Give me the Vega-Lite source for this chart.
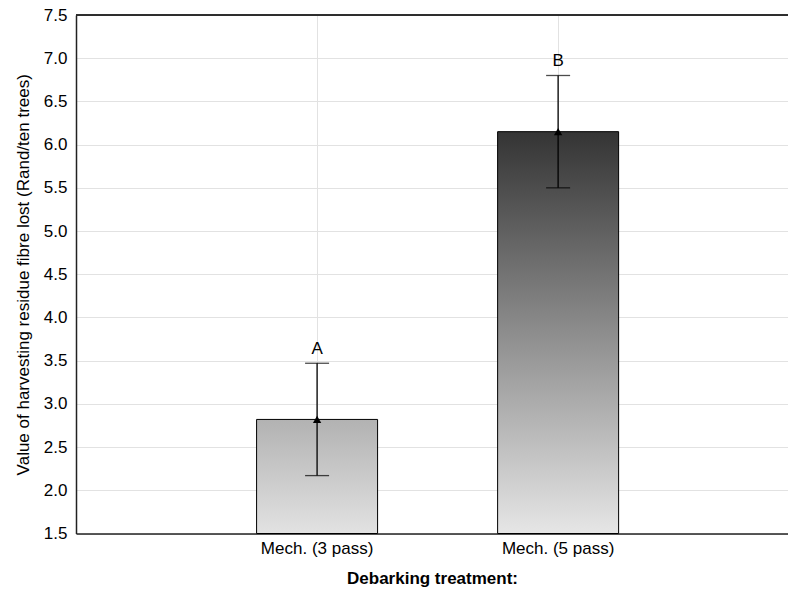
{
  "$schema": "https://vega.github.io/schema/vega-lite/v6.json",
  "width": 712,
  "height": 518.5,
  "autosize": {"type": "none"},
  "padding": {"left": 76, "top": 15, "right": 0, "bottom": 63.5},
  "config": {
    "font": "Liberation Sans",
    "view": {"stroke": null},
    "axis": {
      "labelFont": "Liberation Sans",
      "titleFont": "Liberation Sans",
      "labelFontSize": 17,
      "titleFontSize": 17,
      "labelColor": "#000000",
      "titleColor": "#000000",
      "domainColor": "#222222",
      "domainWidth": 1.5,
      "gridColor": "#e2e2e2",
      "gridWidth": 1
    }
  },
  "data": {
    "values": [
      {"treatment": "Mech. (3 pass)", "mean": 2.82, "lower": 2.17, "upper": 3.47, "group": "A"},
      {"treatment": "Mech. (5 pass)", "mean": 6.15, "lower": 5.5, "upper": 6.8, "group": "B"}
    ]
  },
  "encoding": {
    "x": {
      "field": "treatment",
      "type": "nominal",
      "sort": null,
      "scale": {"type": "band", "paddingInner": 0.498, "paddingOuter": 0.726, "align": 0.516},
      "axis": {
        "title": "Debarking treatment:",
        "titleFontWeight": "bold",
        "titlePadding": 14,
        "labelAngle": 0,
        "grid": true,
        "ticks": false,
        "labelPadding": 7
      }
    }
  },
  "layer": [
    {
      "transform": [{"filter": "datum.treatment === 'Mech. (3 pass)'"}],
      "mark": {
        "type": "bar",
        "stroke": "#000000",
        "strokeWidth": 1,
        "color": {
          "gradient": "linear",
          "x1": 0, "y1": 0, "x2": 0, "y2": 1,
          "stops": [
            {"offset": 0, "color": "#b2b2b2"},
            {"offset": 1, "color": "#e2e2e2"}
          ]
        }
      },
      "encoding": {
        "y": {
          "field": "mean",
          "type": "quantitative",
          "scale": {"domain": [1.5, 7.5], "zero": false, "nice": false},
          "axis": {
            "title": "Value of harvesting residue fibre lost (Rand/ten trees)",
            "titleFontWeight": "normal",
            "titlePadding": 11,
            "values": [1.5, 2, 2.5, 3, 3.5, 4, 4.5, 5, 5.5, 6, 6.5, 7, 7.5],
            "format": ".1f",
            "ticks": false,
            "labelPadding": 9,
            "grid": true
          }
        },
        "y2": {"datum": 1.5}
      }
    },
    {
      "transform": [{"filter": "datum.treatment === 'Mech. (5 pass)'"}],
      "mark": {
        "type": "bar",
        "stroke": "#000000",
        "strokeWidth": 1,
        "color": {
          "gradient": "linear",
          "x1": 0, "y1": 0, "x2": 0, "y2": 1,
          "stops": [
            {"offset": 0, "color": "#343434"},
            {"offset": 1, "color": "#e6e6e6"}
          ]
        }
      },
      "encoding": {
        "y": {"field": "mean", "type": "quantitative"},
        "y2": {"datum": 1.5}
      }
    },
    {
      "mark": {"type": "rule", "color": "#000000", "strokeWidth": 1.3},
      "encoding": {
        "y": {"field": "lower", "type": "quantitative"},
        "y2": {"field": "upper"}
      }
    },
    {
      "mark": {"type": "tick", "color": "#000000", "size": 24, "thickness": 1.3},
      "encoding": {"y": {"field": "upper", "type": "quantitative"}}
    },
    {
      "mark": {"type": "tick", "color": "#000000", "size": 24, "thickness": 1.3},
      "encoding": {"y": {"field": "lower", "type": "quantitative"}}
    },
    {
      "mark": {"type": "point", "shape": "triangle-up", "filled": true, "color": "#000000", "size": 70, "opacity": 1},
      "encoding": {"y": {"field": "mean", "type": "quantitative"}}
    },
    {
      "mark": {"type": "text", "fontSize": 17, "color": "#000000", "baseline": "alphabetic", "dy": -9},
      "encoding": {
        "y": {"field": "upper", "type": "quantitative"},
        "text": {"field": "group"}
      }
    },
    {
      "mark": {"type": "rule", "color": "#222222", "strokeWidth": 1.5},
      "encoding": {
        "x": {"value": 0},
        "x2": {"value": "width"},
        "y": {"datum": 7.5}
      }
    }
  ]
}
